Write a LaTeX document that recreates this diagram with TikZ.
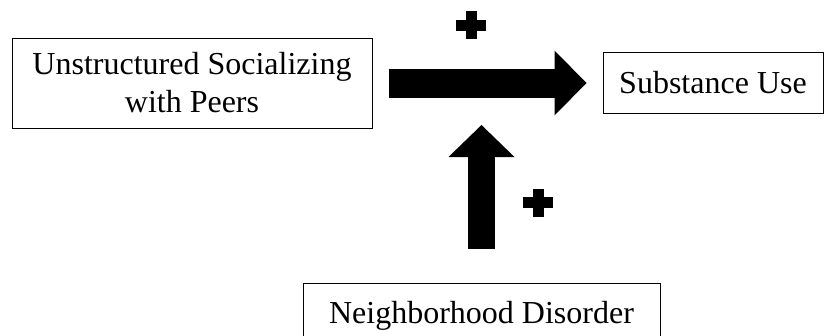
\documentclass[tikz,border=0pt]{standalone}
\usepackage{fontspec}
\setmainfont{Liberation Serif}
\usetikzlibrary{arrows.meta,calc}
\begin{document}
\begin{tikzpicture}[x=1pt,y=-1pt,
  box/.style={draw, line width=1pt, inner sep=0pt, align=center,
    font=\fontsize{32}{38}\selectfont},
  blockarrow/.style={-{Triangle[length=32pt,width=#1,line width=0pt]}},
  plussign/.pic={
    \fill (-15,-5.5) rectangle (15,5.5);
    \fill (-5.5,-14) rectangle (5.5,14);
  },
  ]
\useasboundingbox (0,0) rectangle (825,335);
\clip (0,0) rectangle (825,335);

% the three constructs
\node[box, minimum width=360pt, minimum height=90pt] (usp) at (192,83)
  {Unstructured Socializing\\with Peers};
\node[box, minimum width=220pt, minimum height=61pt] (su) at (713,83)
  {Substance Use};
\node[box, minimum width=357pt, minimum height=65.4pt, anchor=north] (nd)
  at (481.5,283) {Neighborhood Disorder};

% main effect: socializing -> substance use
\coordinate (hstart) at ($(usp.east)+(16,0)$);
\coordinate (hend) at ($(su.west)+(-16,0)$);
\draw[blockarrow=65pt, line width=29pt] (hstart) -- (hend);

% moderation: disorder -> the main path
\coordinate (vstart) at ($(nd.north)+(0,-34)$);
\coordinate (vend) at (nd.north |- 0,125);
\draw[blockarrow=66pt, line width=27pt] (vstart) -- (vend);

% signs of the effects
\pic (signh) at (471,25) {plussign};
\pic (signv) at (538,202.5) {plussign};
\end{tikzpicture}
\end{document}
